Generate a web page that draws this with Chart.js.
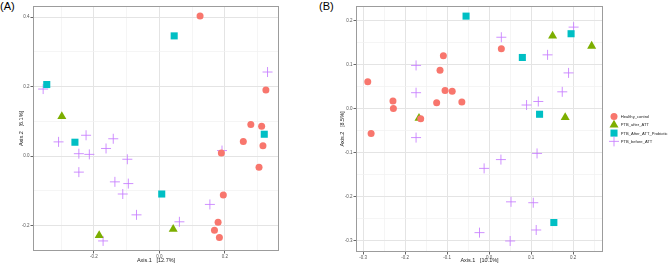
<!DOCTYPE html>
<html>
<head>
<meta charset="utf-8">
<script src="https://cdn.jsdelivr.net/npm/chart.js@4.4.1/dist/chart.umd.min.js"></script>
<style>
  body { margin: 0; overflow: hidden; background: #fff; font-family: 'Liberation Sans', Arial, sans-serif; }
  .panel { position: absolute; top: 0; }
  .tag { position: absolute; top: 0; font-size: 11px; line-height: 13px; color: #000; }
</style>
</head>
<body>
<div class="tag" style="left:0px">(A)</div>
<div class="tag" style="left:319px">(B)</div>
<canvas id="chartA" class="panel" style="left:0px" width="300" height="266"></canvas>
<canvas id="chartB" class="panel" style="left:330px" width="339" height="266"></canvas>
<script>
// groups as in the legend
const groups = ['Healthy_control', 'PTB_after_ATT', 'PTB_After_ATT_Probiotic', 'PTB_before_ATT'];
const colors = ['#F8766D', '#7CAE00', '#00BFC4', '#C77CFF'];
const shapes = ['circle', 'triangle', 'rect', 'cross'];
const radii = [3.5, 5.2, 5, 5];

// panel A  [Axis.1, Axis.2]
const aHealthy = [[0.124, 0.403], [0.325, 0.190], [0.279, 0.091], [0.312, 0.086], [0.256, 0.042], [0.316, 0.030],
  [0.189, 0.009], [0.304, -0.032], [0.195, -0.112], [0.179, -0.190], [0.168, -0.213], [0.183, -0.234]];
const aAfter = [[-0.298, 0.114], [0.042, -0.210], [-0.184, -0.228]];
const aProbiotic = [[0.045, 0.346], [-0.344, 0.206], [-0.258, 0.040], [0.320, 0.063], [0.007, -0.109]];
const aBefore = [[-0.355, 0.193], [-0.308, 0.041], [-0.224, 0.060], [-0.141, 0.050], [-0.163, 0.022], [-0.246, 0.007],
  [-0.214, 0.005], [-0.098, -0.009], [-0.246, -0.046], [-0.136, -0.074], [-0.095, -0.079], [-0.112, -0.109],
  [-0.070, -0.169], [0.061, -0.189], [-0.172, -0.244], [0.330, 0.242], [0.191, 0.016], [0.154, -0.139]];

// panel B
const bHealthy = [[0.029, 0.137], [-0.109, 0.121], [-0.289, 0.062], [-0.117, 0.088], [-0.105, 0.042], [-0.088, 0.040],
  [-0.229, 0.018], [-0.125, 0.014], [-0.065, 0.016], [-0.228, 0.001], [-0.163, -0.022], [-0.281, -0.056]];
const bAfter = [[-0.167, -0.021], [0.151, 0.166], [0.244, 0.143], [0.181, -0.019]];
const bProbiotic = [[-0.055, 0.211], [0.079, 0.117], [0.120, -0.012], [0.195, 0.171], [0.154, -0.258]];
const bBefore = [[0.029, 0.163], [-0.174, 0.099], [-0.174, 0.037], [-0.174, -0.065], [0.089, 0.009], [0.117, 0.017],
  [0.201, 0.186], [0.139, 0.123], [0.189, 0.082], [0.174, 0.039], [0.114, -0.101], [0.028, -0.115],
  [-0.012, -0.135], [0.052, -0.211], [0.105, -0.213], [-0.023, -0.281], [0.112, -0.275], [0.050, -0.300]];

// tick positions (gridlines) and labels, '' = minor gridline
const aTicksX = [-0.3, -0.2, -0.1, 0, 0.1, 0.2, 0.3];
const aLabelsX = ['', '-0.2', '', '0.0', '', '0.2', ''];
const aTicksY = [-0.2, -0.1, 0, 0.1, 0.2, 0.3, 0.4];
const aLabelsY = ['-0.2', '', '0.0', '', '0.2', '', '0.4'];
const bTicksX = [-0.3, -0.25, -0.2, -0.15, -0.1, -0.05, 0, 0.05, 0.1, 0.15, 0.2, 0.25];
const bLabelsX = ['-0.3', '', '-0.2', '', '-0.1', '', '0.0', '', '0.1', '', '0.2', ''];
const bTicksY = [-0.3, -0.25, -0.2, -0.15, -0.1, -0.05, 0, 0.05, 0.1, 0.15, 0.2];
const bLabelsY = ['-0.3', '', '-0.2', '', '-0.1', '', '0.0', '', '0.1', '', '0.2'];

const FONT = "'Liberation Sans', Arial, sans-serif";

// grey box around the plot area (like theme_bw)
const framePlugin = {
  id: 'frame',
  afterDatasetsDraw(chart) {
    const a = chart.chartArea, c = chart.ctx;
    c.save();
    c.strokeStyle = '#9c9c9c';
    c.lineWidth = 1;
    c.strokeRect(Math.round(a.left) + 0.5, Math.round(a.top) + 0.5,
      Math.round(a.right - a.left) - 1, Math.round(a.bottom - a.top) - 1);
    c.restore();
  }
};

// small marker, same shapes as the points
function marker(c, style, r, x, y, fill, stroke, lw) {
  c.beginPath();
  if (style === 'circle') {
    c.arc(x, y, r, 0, Math.PI * 2);
  } else if (style === 'triangle') {
    c.moveTo(x, y - r);
    c.lineTo(x + r * 0.866, y + r * 0.5);
    c.lineTo(x - r * 0.866, y + r * 0.5);
    c.closePath();
  } else if (style === 'rect') {
    const h = r * Math.SQRT1_2;
    c.rect(x - h, y - h, 2 * h, 2 * h);
  } else {
    c.moveTo(x - r, y); c.lineTo(x + r, y);
    c.moveTo(x, y - r); c.lineTo(x, y + r);
  }
  if (style === 'cross') {
    c.strokeStyle = stroke; c.lineWidth = lw; c.stroke();
  } else {
    c.fillStyle = fill; c.fill();
  }
}

// legend to the right of panel B, built from the datasets
const legendPlugin = {
  id: 'sideLegend',
  afterDraw(chart) {
    const c = chart.ctx;
    const x0 = chart.chartArea.right + 11;
    const y0 = (chart.chartArea.top + chart.chartArea.bottom) / 2 - 12.4;
    c.save();
    c.font = '4.1px ' + FONT;
    c.textBaseline = 'middle';
    chart.data.datasets.forEach((ds, i) => {
      const y = y0 + i * 8.25;
      marker(c, ds.pointStyle, ds.pointRadius, x0, y, ds.pointBackgroundColor, ds.pointBorderColor, ds.pointBorderWidth);
      c.fillStyle = '#222';
      c.fillText(ds.label, x0 + 6.8, y + 0.3);
    });
    c.restore();
  }
};

function makeSets(series) {
  return series.map((pts, i) => ({
    label: groups[i],
    data: pts.map(p => ({ x: p[0], y: p[1] })),
    pointStyle: shapes[i],
    pointRadius: radii[i],
    pointHoverRadius: radii[i],
    pointBackgroundColor: colors[i],
    pointBorderColor: i === 3 ? 'rgba(199,124,255,0.85)' : colors[i],
    pointBorderWidth: i === 3 ? 1 : 0
  }));
}

function axis(ticks, labels, min, max, title, size, titlePad) {
  return {
    type: 'linear', min: min, max: max,
    afterBuildTicks: s => { s.ticks = ticks.map(v => ({ value: v })); },
    afterFit: s => {
      if (s.isHorizontal()) s.height = size; else s.width = size;
      s.paddingTop = 0; s.paddingBottom = 0; s.paddingLeft = 0; s.paddingRight = 0;
    },
    ticks: {
      autoSkip: false, maxRotation: 0, padding: 1, color: '#555',
      font: { family: FONT, size: 4.5 },
      callback: (v, i) => labels[i]
    },
    grid: {
      color: c => labels[c.index] === '' ? '#f1f1f1' : '#e4e4e4',
      lineWidth: c => labels[c.index] === '' ? 0.7 : 1,
      tickLength: 2.5,
      tickColor: c => labels[c.index] === '' ? 'rgba(0,0,0,0)' : '#666'
    },
    border: { display: false },
    title: { display: true, text: title, color: '#222', font: { family: FONT, size: 5.5 }, padding: titlePad }
  };
}

// panel A
new Chart(document.getElementById('chartA'), {
  type: 'scatter',
  data: { datasets: makeSets([aHealthy, aAfter, aProbiotic, aBefore]) },
  options: {
    responsive: false,
    animation: false,
    layout: { padding: { left: 0, right: 21, top: 3, bottom: 0 } },
    plugins: { legend: { display: false }, tooltip: { enabled: false } },
    scales: {
      x: axis(aTicksX, aLabelsX, -0.386, 0.365, 'Axis.1   [12.7%]', 15, { top: 0, bottom: 2 }),
      y: axis(aTicksY, aLabelsY, -0.273, 0.432, 'Axis.2   [6.1%]', 33, { top: 18.4, bottom: 0 })
    }
  },
  plugins: [framePlugin]
});

// panel B, room on the right for the legend
new Chart(document.getElementById('chartB'), {
  type: 'scatter',
  data: { datasets: makeSets([bHealthy, bAfter, bProbiotic, bBefore]) },
  options: {
    responsive: false,
    animation: false,
    layout: { padding: { left: 0, right: 66, top: 3, bottom: 0 } },
    plugins: { legend: { display: false }, tooltip: { enabled: false } },
    scales: {
      x: axis(bTicksX, bLabelsX, -0.317, 0.271, 'Axis.1   [10.1%]', 14, { top: 0, bottom: 2 }),
      y: axis(bTicksY, bLabelsY, -0.325, 0.234, 'Axis.2   [8.5%]', 26, { top: 9.4, bottom: 0 })
    }
  },
  plugins: [framePlugin, legendPlugin]
});
</script>
</body>
</html>
